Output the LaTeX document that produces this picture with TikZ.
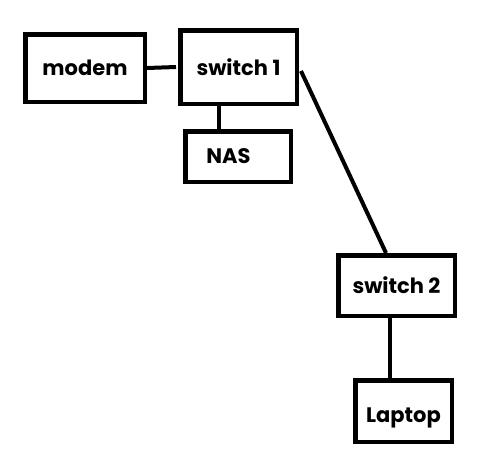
\documentclass[tikz,border=0pt]{standalone}
\usepackage{fontspec}
\setmainfont{Poppins}
\begin{document}
\begin{tikzpicture}[x=1pt,y=-1pt,
  box/.style={draw=black,line width=4.5pt,fill=white,inner sep=0pt,font=\fontsize{21}{24}\selectfont\bfseries},
  link/.style={draw=black,line width=4pt}]
\useasboundingbox (0,0) rectangle (497,463);
\node[box,minimum width=119.5pt,minimum height=67.5pt] (modem) at (85,68) {modem};
\node[box,minimum width=116.5pt,minimum height=73.5pt] (sw1) at (238.5,67) {switch 1};
\node[box,minimum width=105.5pt,minimum height=50.5pt,text width=105.5pt,align=left] (nas) at (238,156.5) {\hspace*{21pt}NAS};
\node[box,minimum width=116.5pt,minimum height=60.5pt] (sw2) at (396.5,285.5) {switch 2};
\node[box,minimum width=96.5pt,minimum height=61.5pt] (lap) at (403.5,411) {\raisebox{-6pt}[15pt][5pt]{Laptop}};
\draw[link] (modem.east) -- ([xshift=-2pt]sw1.west);
\draw[link] ([xshift=-20pt]sw1.south) -- ([xshift=-20pt]sw1.south |- nas.north);
\draw[link] ([yshift=-4pt,xshift=2pt]sw1.east) -- ([xshift=-10.5pt]sw2.north);
\draw[link] ([xshift=-6.5pt]sw2.south) -- ([xshift=-6.5pt]sw2.south |- lap.north);
\end{tikzpicture}
\end{document}
